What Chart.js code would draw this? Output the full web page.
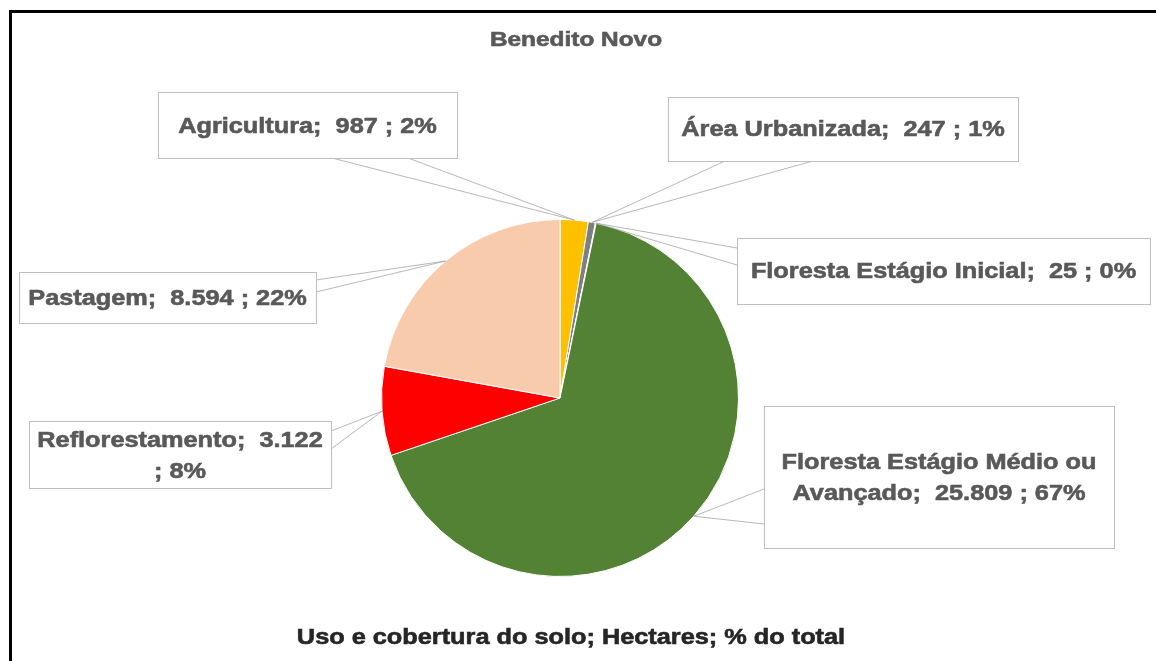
<!DOCTYPE html>
<html>
<head>
<meta charset="utf-8">
<script src="https://cdn.jsdelivr.net/npm/chart.js@4/dist/chart.umd.min.js"></script>
<style>
    html, body { margin: 0; padding: 0; background: #fff; }
    #wrap { width: 1156px; height: 661px; }
</style>
</head>
<body>
<div id="wrap"><canvas id="usoSoloChart" width="1156" height="661"></canvas></div>
<script>
// Uso e cobertura do solo - Benedito Novo (hectares)
const categorias = [ 'Agricultura', 'Área Urbanizada', 'Floresta Estágio Inicial',
    'Floresta Estágio Médio ou Avançado', 'Reflorestamento', 'Pastagem' ];
const hectares = [ 987, 247, 25, 25809, 3122, 8594 ];
const hectaresTexto = [ '987', '247', '25', '25.809', '3.122', '8.594' ];
const percentuais = [ '2%', '1%', '0%', '67%', '8%', '22%' ];
const cores = [ '#FFC000', '#7F7F7F', '#A9D18E', '#548235', '#FF0000', '#F8CBAD' ];

// caixas dos rótulos: retângulo, quebra de linha, altura do texto e os dois pontos de saída da linha guia
const caixas = [
    { x : 158, y : 92, w : 299, h : 66, quebra : 0, ty : 127,
      pe : [ [ 332, 158 ], [ 408, 158 ] ] },
    { x : 668, y : 97, w : 350, h : 64, quebra : 0, ty : 130,
      pe : [ [ 725, 161 ], [ 813, 161 ] ] },
    { x : 737, y : 238, w : 413, h : 66, quebra : 0, ty : 272,
      pe : [ [ 737, 248 ], [ 737, 265 ] ] },
    { x : 764, y : 406, w : 350, h : 142, quebra : 25, ty : 463,
      pe : [ [ 764, 489 ], [ 764, 524 ] ] },
    { x : 29, y : 421, w : 302, h : 67, quebra : 23, ty : 441,
      pe : [ [ 331, 431 ], [ 331, 449 ] ] },
    { x : 19, y : 272, w : 297, h : 51, quebra : 0, ty : 299,
      pe : [ [ 316, 280 ], [ 316, 292 ] ] }
];

// texto em negrito alargado e reforçado
function textoLargo(ctx, t, x, y, esticar, reforco) {
    ctx.save();
    ctx.translate(x, y);
    ctx.scale(esticar, 1);
    ctx.fillText(t, 0, 0);
    if (reforco) {
        ctx.strokeStyle = ctx.fillStyle;
        ctx.lineWidth = reforco;
        ctx.strokeText(t, 0, 0);
    }
    ctx.restore();
}

const moldura = {
    id : 'moldura',
    beforeDraw(chart) {
        const ctx = chart.ctx;
        ctx.save();
        ctx.fillStyle = '#fff';
        ctx.fillRect(0, 0, chart.width, chart.height);
        ctx.fillStyle = '#000';
        ctx.fillRect(9, 10, chart.width - 9, 3);
        ctx.fillRect(9, 10, 3, chart.height - 10);
        ctx.restore();
    }
};

const rotulos = {
    id : 'rotulos',
    afterDatasetsDraw(chart) {
        const ctx = chart.ctx;
        const arcs = chart.getDatasetMeta(0).data;
        ctx.save();

        // linhas guia
        ctx.strokeStyle = '#A6A6A6';
        ctx.lineWidth = 0.8;
        caixas.forEach((c, i) => {
            const a = arcs[i];
            const meio = (a.startAngle + a.endAngle) / 2;
            const ax = a.x + Math.cos(meio) * a.outerRadius;
            const ay = a.y + Math.sin(meio) * a.outerRadius;
            ctx.beginPath();
            ctx.moveTo(c.pe[0][0], c.pe[0][1]);
            ctx.lineTo(ax, ay);
            ctx.lineTo(c.pe[1][0], c.pe[1][1]);
            ctx.stroke();
        });

        // caixas e textos
        ctx.font = 'bold 22px "Liberation Sans", Arial, sans-serif';
        ctx.textAlign = 'center';
        ctx.textBaseline = 'middle';
        caixas.forEach((c, i) => {
            ctx.fillStyle = '#fff';
            ctx.fillRect(c.x, c.y, c.w, c.h);
            ctx.strokeStyle = '#BFBFBF';
            ctx.lineWidth = 1;
            ctx.strokeRect(c.x + 0.5, c.y + 0.5, c.w, c.h);

            const texto = `${categorias[i]};  ${hectaresTexto[i]} ; ${percentuais[i]}`;
            const linhas = c.quebra ? [ texto.slice(0, c.quebra).trim(), texto.slice(c.quebra).trim() ] : [ texto ];
            ctx.fillStyle = '#595959';
            linhas.forEach((t, k) => {
                textoLargo(ctx, t, c.x + c.w / 2, c.ty + k * 31, 1.15, 0.6);
            });
        });

        // título e legenda do eixo
        ctx.fillStyle = '#595959';
        ctx.font = 'bold 20px "Liberation Sans", Arial, sans-serif';
        textoLargo(ctx, 'Benedito Novo', 576, 40, 1.22, 0.6);
        ctx.fillStyle = '#262626';
        ctx.font = 'bold 22px "Liberation Sans", Arial, sans-serif';
        textoLargo(ctx, 'Uso e cobertura do solo; Hectares; % do total', 571, 638, 1.15, 0.6);
        ctx.restore();
    }
};

new Chart(document.getElementById('usoSoloChart'), {
    type : 'pie',
    data : {
        labels : categorias,
        datasets : [ {
            data : hectares,
            backgroundColor : cores,
            borderColor : '#fff',
            borderWidth : 1
        } ]
    },
    options : {
        responsive : false,
        animation : false,
        layout : {
            padding : { left : 381, right : 417, top : 219, bottom : 84 }
        },
        plugins : {
            legend : { display : false },
            tooltip : { enabled : false }
        }
    },
    plugins : [ moldura, rotulos ]
});
</script>
</body>
</html>
